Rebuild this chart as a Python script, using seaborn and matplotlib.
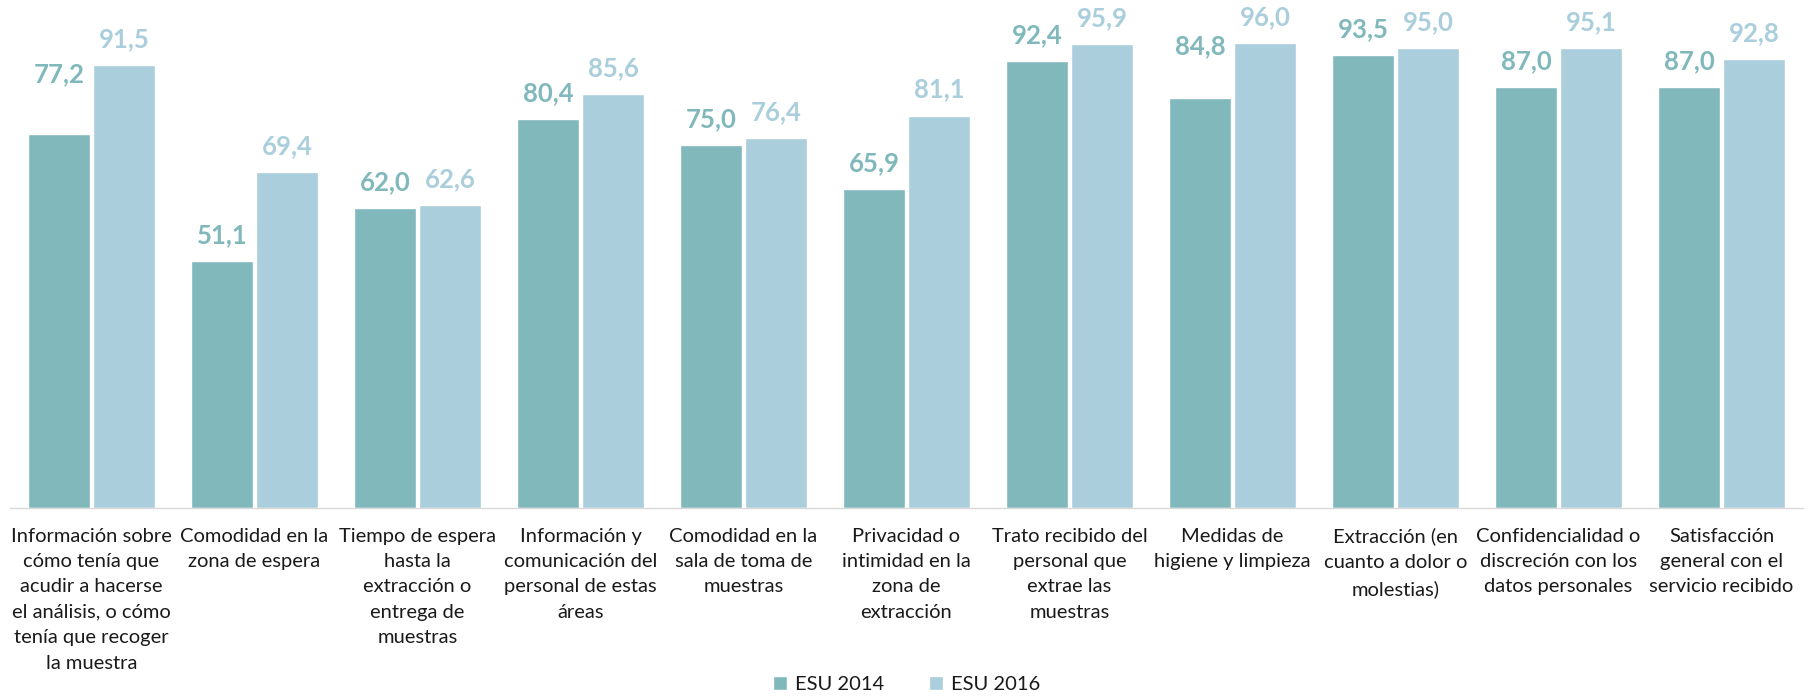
import pandas as pd
import seaborn as sns
import matplotlib.pyplot as plt

categories = [
    "Información sobre\ncómo tenía que\nacudir a hacerse\nel análisis, o cómo\ntenía que recoger\nla muestra",
    "Comodidad en la\nzona de espera",
    "Tiempo de espera\nhasta la\nextracción o\nentrega de\nmuestras",
    "Información y\ncomunicación del\npersonal de estas\náreas",
    "Comodidad en la\nsala de toma de\nmuestras",
    "Privacidad o\nintimidad en la\nzona de\nextracción",
    "Trato recibido del\npersonal que\nextrae las\nmuestras",
    "Medidas de\nhigiene y limpieza",
    "Extracción (en\ncuanto a dolor o\nmolestias)",
    "Confidencialidad o\ndiscreción con los\ndatos personales",
    "Satisfacción\ngeneral con el\nservicio recibido",
]
series = ["ESU 2014", "ESU 2016"]
esu_2014 = [77.2, 51.1, 62.0, 80.4, 75.0, 65.9, 92.4, 84.8, 93.5, 87.0, 87.0]
esu_2016 = [91.5, 69.4, 62.6, 85.6, 76.4, 81.1, 95.9, 96.0, 95.0, 95.1, 92.8]

colors = ["#80B8BB", "#AACEDC"]
# extra lift (pixels) for labels placed higher in the original
label_lift = {(0, 0): 34, (0, 7): 25}

df = pd.DataFrame({
    "categoria": categories * 2,
    "serie": [series[0]] * len(categories) + [series[1]] * len(categories),
    "valor": esu_2014 + esu_2016,
})

sns.set_theme(style="white")
plt.rcParams["font.family"] = ["Lato", "DejaVu Sans"]

fig = plt.figure(figsize=(18.09, 6.96), dpi=100)
ax = fig.add_axes([0.0055, 0.270, 0.9912, 0.6955])

sns.barplot(data=df, x="categoria", y="valor", hue="serie", palette=colors,
            width=0.8, gap=0.05, saturation=1, ax=ax)

for si, cont in enumerate(ax.containers):
    for ci, bar in enumerate(cont):
        h = bar.get_height()
        ax.annotate(f"{h:.1f}".replace(".", ","),
                    (bar.get_x() + bar.get_width() / 2, h),
                    xytext=(0, 14 + label_lift.get((si, ci), 0)),
                    textcoords="offset pixels", ha="center", va="bottom",
                    fontsize=18.5, fontweight="bold", color=colors[si])

ax.set_ylim(0, 100)
ax.set_xlim(-0.5, len(categories) - 0.5)
ax.set_xlabel("")
ax.set_ylabel("")
ax.set_yticks([])
for s in ["top", "left", "right"]:
    ax.spines[s].set_visible(False)
ax.spines["bottom"].set_color("#D9D9D9")
ax.spines["bottom"].set_linewidth(1)
ax.tick_params(axis="x", length=0, pad=14)
for lbl in ax.get_xticklabels():
    lbl.set_fontsize(14.5)
    lbl.set_color("#1A1A1A")
    lbl.set_linespacing(1.6)

ax.legend(loc="lower center", bbox_to_anchor=(0.5, -0.42), ncol=2, frameon=False,
          fontsize=14.5, handlelength=0.7, handleheight=0.7, handletextpad=0.4,
          columnspacing=2.2)
for t in ax.get_legend().get_texts():
    t.set_color("#1A1A1A")

fig.savefig("out.png", dpi=100)
